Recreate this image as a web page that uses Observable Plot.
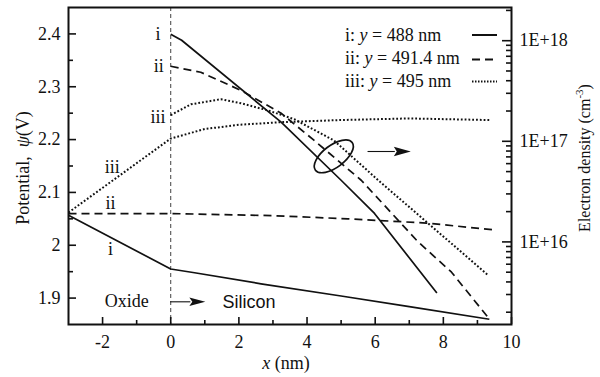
<!DOCTYPE html>
<html><head><meta charset="utf-8">
<script src="https://cdn.jsdelivr.net/npm/d3@7"></script>
<script src="https://cdn.jsdelivr.net/npm/@observablehq/plot@0.6"></script>
<style>body{margin:0;background:#fff} #chart{width:600px;height:377px}</style>
</head><body><div id="chart"></div>
<script>
// ---- data (x in nm) ----
const series = ["i", "ii", "iii"];
const seriesLabels = ["488", "491.4", "495"];
// potential ψ (V), left axis
const potential_i   = [[-3,2.057],[0,1.955],[0.7,1.948],[2.65,1.927],[5,1.904],[7,1.884],[9.35,1.86]];
const potential_ii  = [[-3,2.06],[0,2.06],[3,2.056],[5.2,2.05],[7.5,2.042],[9.5,2.029]];
const potential_iii = [[-3,2.062],[0,2.202],[1,2.22],[2,2.228],[3.24,2.233],[5,2.237],[7,2.24],[9.35,2.237]];
// electron density (cm^-3), right log axis
const density_i   = [[0,1.16e18],[0.32,1.01e18],[3.24,1.55e17],[5,4.1e16],[5.98,1.92e16],[7.81,3.1e15]];
const density_ii  = [[0,5.57e17],[0.88,4.86e17],[2.06,3.21e17],[3.24,1.9e17],[4.21,1.02e17],[5.59,4.1e16],[7.26,1.0e16],[8.24,5.0e15],[9.31,1.78e15]];
const density_iii = [[0,1.82e17],[0.59,2.33e17],[1.47,2.62e17],[2.06,2.39e17],[2.85,2.03e17],[3.62,1.66e17],[4.79,1.02e17],[6.09,4.1e16],[9.32,4.65e15]];
// ticks
const xMajor = [-2, 0, 2, 4, 6, 8, 10];
const xMinor = [-1, 1, 3, 5, 7, 9];
const yMajor = [1.9, 2, 2.1, 2.2, 2.3, 2.4];
const yMinor = [1.95, 2.05, 2.15, 2.25, 2.35];
const densMajor = [1e16, 1e17, 1e18];
const densMinor = [];
for (const e of [15, 16, 17]) for (let k = 2; k <= 9; k++) densMinor.push(k * 10 ** e);
densMinor.push(2e18);

// ---- secondary (log) axis mapped into the left scale ----
const yDom = [1.85, 2.45];
const logDom = [15.179, 18.330];
const dens2y = v => yDom[0] + (Math.log10(v) - logDom[0]) / (logDom[1] - logDom[0]) * (yDom[1] - yDom[0]);
const y2dens = y => logDom[0] + (y - yDom[0]) / (yDom[1] - yDom[0]) * (logDom[1] - logDom[0]);

// ---- annotations (data space) ----
const curveLabels = [
  {t: "i", x: -0.37, y: 2.399}, {t: "ii", x: -0.35, y: 2.339}, {t: "iii", x: -0.37, y: 2.242},
  {t: "iii", x: -1.715, y: 2.148}, {t: "ii", x: -1.765, y: 2.0787}, {t: "i", x: -1.765, y: 1.9934}
];
const regionLabels = [{t: "Oxide", x: -1.294, y: 1.8936, font: "serif"}, {t: "Silicon", x: 2.30, y: 1.8923, font: "sans"}];
const arrows = [{x1: 0, x2: 1.03, y: 1.892, head: 16, half: 4.2}, {x1: 5.79, x2: 7.06, y: 2.1765, head: 17, half: 4.8}];
const ellipseC = [4.80, 2.1674];

const ink = "#111";
const serif = "'Liberation Serif', 'Times New Roman', serif";
const sans = "'Liberation Sans', Arial, sans-serif";
const W = 600, H = 377, mL = 68, mR = 89, mT = 7, mB = 53;
const pW = W - mL - mR, pH = H - mT - mB;

const dashes = {i: null, ii: "8,5", iii: "1.8,2"};
const widths = {i: 1.7, ii: 1.7, iii: 2};

function extras(index, scales, values, dims) {
  const X = scales.x, Y = scales.y;
  const g = d3.create("svg:g").attr("fill", ink).attr("font-family", serif).attr("font-size", 18)
    .attr("text-anchor", "start");
  // ellipse
  const ex = X(ellipseC[0]), ey = Y(ellipseC[1]);
  g.append("ellipse").attr("cx", ex).attr("cy", ey).attr("rx", 23).attr("ry", 11)
    .attr("transform", `rotate(-37 ${ex} ${ey})`).attr("fill", "none").attr("stroke", ink).attr("stroke-width", 1.7);
  // arrows
  for (const a of arrows) {
    const x1 = X(a.x1), x2 = X(a.x2), yy = Y(a.y);
    g.append("line").attr("x1", x1).attr("x2", x2 - a.head + 1).attr("y1", yy).attr("y2", yy)
      .attr("stroke", ink).attr("stroke-width", 1.1);
    g.append("path").attr("d", `M${x2},${yy}L${x2 - a.head},${yy - a.half}L${x2 - a.head + 3},${yy}L${x2 - a.head},${yy + a.half}Z`).attr("fill", ink);
  }
  // axis titles
  const lt = g.append("text").attr("transform", `translate(29,168) rotate(-90)`).attr("text-anchor", "middle");
  lt.append("tspan").text("Potential,  ");
  lt.append("tspan").attr("font-style", "italic").text("ψ");
  lt.append("tspan").text("(V)");
  const xt = g.append("text").attr("x", 286).attr("y", 369).attr("text-anchor", "middle").attr("font-size", 18);
  xt.append("tspan").attr("font-style", "italic").text("x");
  xt.append("tspan").text(" (nm)");
  const rt = g.append("text").attr("transform", `translate(590,158) rotate(-90)`).attr("text-anchor", "middle").attr("font-size", 16);
  rt.append("tspan").text("Electron density (cm");
  rt.append("tspan").attr("font-size", 11).attr("dy", "-0.6em").text("-3");
  rt.append("tspan").attr("dy", "0.4em").text(")");
  // legend
  series.forEach((s, i) => {
    const by = 40.5 + i * 23;
    const t = g.append("text").attr("x", 345).attr("y", by).attr("text-anchor", "start");
    t.append("tspan").text(`${s}: `);
    t.append("tspan").attr("font-style", "italic").text("y");
    t.append("tspan").text(` = ${seriesLabels[i]} nm`);
    const ly = [35, 59.5, 81.5][i];
    g.append("line").attr("x1", 472).attr("x2", 497).attr("y1", ly).attr("y2", ly)
      .attr("stroke", ink).attr("stroke-width", i === 2 ? 1.8 : 2)
      .attr("stroke-dasharray", i === 0 ? null : i === 1 ? "8,5" : "1.5,1.5");
  });
  return g.node();
}

const lineMark = (data, s, conv) => Plot.line(data, {
  x: d => d[0], y: d => conv(d[1]), stroke: ink, strokeWidth: widths[s],
  strokeDasharray: dashes[s], strokeLinecap: "butt", strokeLinejoin: "round"
});
const id = v => v;

const plot = Plot.plot({
  width: W, height: H, marginLeft: mL, marginRight: mR, marginTop: mT, marginBottom: mB,
  style: {fontFamily: serif, fontSize: "18px", color: ink, background: "#fff"},
  x: {domain: [-3, 10]},
  y: {domain: yDom},
  marks: [
    Plot.ruleX([0], {stroke: ink, strokeWidth: 0.8, strokeDasharray: "4,3"}),
    lineMark(potential_i, "i", id), lineMark(potential_ii, "ii", id), lineMark(potential_iii, "iii", id),
    lineMark(density_i, "i", dens2y), lineMark(density_ii, "ii", dens2y), lineMark(density_iii, "iii", dens2y),
    // tick marks (inward)
    Plot.tickY(yMajor, {y: d => d, insetRight: pW - 8, strokeWidth: 1.6, stroke: ink}),
    Plot.tickY(yMinor, {y: d => d, insetRight: pW - 5, strokeWidth: 1.6, stroke: ink}),
    Plot.tickY(densMajor, {y: dens2y, insetLeft: pW - 9, strokeWidth: 1.6, stroke: ink}),
    Plot.tickY(densMinor, {y: dens2y, insetLeft: pW - 5, strokeWidth: 1.6, stroke: ink}),
    Plot.tickX(xMajor, {x: d => d, insetTop: pH - 7, strokeWidth: 1.6, stroke: ink}),
    Plot.tickX(xMinor, {x: d => d, insetTop: pH - 4, strokeWidth: 1.6, stroke: ink}),
    Plot.axisX({ticks: xMajor, tickSize: 0, tickPadding: 11, tickFormat: d => String(d), label: null, fontSize: 18}),
    Plot.axisY({ticks: yMajor, tickSize: 0, tickPadding: 8, tickFormat: d => String(d), label: null, fontSize: 18}),
    Plot.axisY({anchor: "right", ticks: densMajor.map(dens2y), tickSize: 0, tickPadding: 8,
      tickFormat: d => "1E+" + Math.round(y2dens(d)), label: null, fontSize: 18}),
    Plot.text(curveLabels, {x: "x", y: "y", text: "t", fontSize: 18, fill: ink}),
    Plot.text(regionLabels.filter(d => d.font === "serif"), {x: "x", y: "y", text: "t", fontSize: 18, fill: ink, fontFamily: serif}),
    Plot.text(regionLabels.filter(d => d.font === "sans"), {x: "x", y: "y", text: "t", fontSize: 18, fill: ink, fontFamily: sans}),
    extras,
    Plot.frame({stroke: ink, strokeWidth: 2})
  ]
});
document.getElementById("chart").appendChild(plot);
</script>
</body></html>
